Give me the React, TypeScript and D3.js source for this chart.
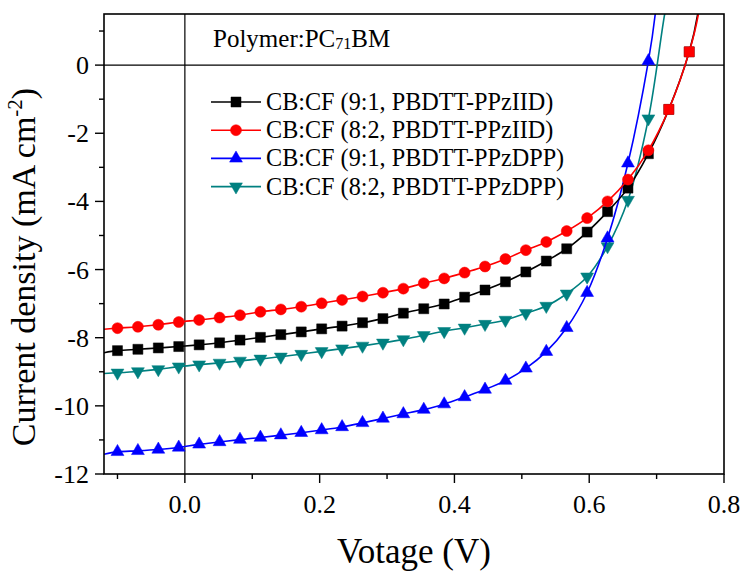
import React from "react";
import * as d3 from "d3";

// ---------- data ----------
const voltage = [
  -0.1, -0.0697, -0.0394, -0.0091, 0.0212, 0.0515, 0.0818, 0.1121, 0.1424, 0.1727,
  0.203, 0.2333, 0.2636, 0.2939, 0.3242, 0.3545, 0.3848, 0.4151, 0.4454, 0.4757,
  0.506, 0.5363, 0.5666, 0.5969, 0.6272, 0.6575, 0.6878, 0.7181, 0.7484,
];
const jBlack = [
  -8.38, -8.34, -8.3, -8.26, -8.21, -8.15, -8.07, -7.99, -7.91, -7.83,
  -7.74, -7.66, -7.56, -7.44, -7.28, -7.15, -7.01, -6.81, -6.6, -6.36,
  -6.07, -5.75, -5.39, -4.9, -4.3, -3.61, -2.6, -1.3, 0.39,
];
const jRed = [
  -7.72, -7.68, -7.62, -7.54, -7.48, -7.41, -7.34, -7.24, -7.17, -7.09,
  -6.99, -6.89, -6.79, -6.68, -6.56, -6.4, -6.26, -6.09, -5.91, -5.69,
  -5.43, -5.19, -4.87, -4.49, -4.0, -3.36, -2.5, -1.3, 0.39,
];
const jBlue = [
  -11.35, -11.32, -11.28, -11.22, -11.13, -11.06, -10.99, -10.93, -10.86, -10.79,
  -10.71, -10.62, -10.5, -10.37, -10.24, -10.11, -9.95, -9.74, -9.52, -9.26,
  -8.9, -8.41, -7.71, -6.68, -5.08, -2.88, 0.12,
];
const jTeal = [
  -9.03, -8.99, -8.93, -8.85, -8.79, -8.74, -8.68, -8.62, -8.56, -8.48,
  -8.4, -8.32, -8.24, -8.15, -8.05, -7.93, -7.81, -7.71, -7.6, -7.48,
  -7.28, -7.07, -6.71, -6.21, -5.32, -3.96, -1.57,
];
// line read at the left frame edge (V = -0.12) and voltage where each line leaves the top (J = 1.5)
const startJ = [-8.44, -7.75, -11.42, -9.05];
const exitV = [0.761, 0.762, 0.698, 0.712];

const seriesNames = [
  "CB:CF (9:1, PBDTT-PPzIID)",
  "CB:CF (8:2, PBDTT-PPzIID)",
  "CB:CF (9:1, PBDTT-PPzDPP)",
  "CB:CF (8:2, PBDTT-PPzDPP)",
];
const seriesJ = [jBlack, jRed, jBlue, jTeal];
const seriesColors = ["#000000", "#ff0000", "#0000ff", "#008080"];
const seriesShapes = ["square", "circle", "up", "down"];

const xTickMajor = [0.0, 0.2, 0.4, 0.6, 0.8];
const xTickMinor = [-0.1, 0.1, 0.3, 0.5, 0.7];
const yTickMajor = [0, -2, -4, -6, -8, -10, -12];
const yTickMinor = [1, -1, -3, -5, -7, -9, -11];

// ---------- layout ----------
const W = 745;
const H = 572;
const left = 104;
const right = 724;
const top = 14;
const bottom = 474;
const FONT = "Liberation Serif";
const tx = { fontFamily: FONT, fill: "#000" };

const x = d3.scaleLinear().domain([-0.12, 0.8]).range([left, right]);
const y = d3.scaleLinear().domain([-12, 1.5]).range([bottom, top]);

function symbolPath(shape: string): string {
  const s = d3.symbol();
  if (shape === "square") return s.type(d3.symbolSquare).size(100)() as string;
  if (shape === "circle") return s.type(d3.symbolCircle).size(95)() as string;
  return s.type(d3.symbolTriangle).size(72)() as string;
}

function Marker({ cx, cy, shape, color }: { cx: number; cy: number; shape: string; color: string }) {
  const rot = shape === "down" ? " rotate(180)" : "";
  return (
    <path
      d={symbolPath(shape)}
      transform={`translate(${cx},${cy})${rot}`}
      fill={color}
      stroke={color}
      strokeWidth={0.5}
    />
  );
}

export default function App() {
  const lineGen = d3
    .line<[number, number]>()
    .x((d) => x(d[0]))
    .y((d) => y(d[1]))
    .curve(d3.curveCatmullRom.alpha(0.5));

  const drawOrder = [3, 2, 0, 1];

  return (
    <svg
      width={W}
      height={H}
      style={{ position: "absolute", left: 0, top: 0, background: "#fff", fontFamily: FONT }}
    >
      <defs>
        <clipPath id="plotClip">
          <rect x={left} y={top} width={right - left} height={bottom - top} />
        </clipPath>
      </defs>
      <rect x={0} y={0} width={W} height={H} fill="#fff" />

      {/* zero lines */}
      <line x1={x(0)} x2={x(0)} y1={top} y2={bottom} stroke="#000" strokeWidth={1.2} />
      <line x1={left} x2={right} y1={y(0)} y2={y(0)} stroke="#000" strokeWidth={1.2} />

      {/* series */}
      <g clipPath="url(#plotClip)">
        {drawOrder.map((si) => {
          const js = seriesJ[si];
          const pts: [number, number][] = [[-0.12, startJ[si]]];
          js.forEach((j, i) => pts.push([voltage[i], j]));
          pts.push([exitV[si], 1.5]);
          pts.push([exitV[si] + (exitV[si] - voltage[js.length - 1]) * 0.3, 2.2]);
          return (
            <g key={si}>
              <path d={lineGen(pts) as string} fill="none" stroke={seriesColors[si]} strokeWidth={1.6} />
              {js.map((j, i) => (
                <Marker
                  key={i}
                  cx={x(voltage[i])}
                  cy={y(j)}
                  shape={si === 1 && i >= 27 ? "square" : seriesShapes[si]}
                  color={seriesColors[si]}
                />
              ))}
            </g>
          );
        })}
      </g>

      {/* frame */}
      <rect x={left} y={top} width={right - left} height={bottom - top} fill="none" stroke="#000" strokeWidth={1.6} />

      {/* x ticks */}
      {xTickMajor.map((t) => (
        <g key={"xm" + t}>
          <line x1={x(t)} x2={x(t)} y1={bottom} y2={bottom + 9} stroke="#000" strokeWidth={1.4} />
          <text x={x(t)} y={bottom + 39} textAnchor="middle" fontSize={26} style={tx}>
            {t.toFixed(1)}
          </text>
        </g>
      ))}
      {xTickMinor.map((t) => (
        <line key={"xn" + t} x1={x(t)} x2={x(t)} y1={bottom} y2={bottom + 5} stroke="#000" strokeWidth={1.4} />
      ))}

      {/* y ticks */}
      {yTickMajor.map((t) => (
        <g key={"ym" + t}>
          <line x1={left - 9} x2={left} y1={y(t)} y2={y(t)} stroke="#000" strokeWidth={1.4} />
          <text x={left - 15} y={y(t) + 9} textAnchor="end" fontSize={26} style={tx}>
            {t === 0 ? "0" : "-" + Math.abs(t)}
          </text>
        </g>
      ))}
      {yTickMinor.map((t) => (
        <line key={"yn" + t} x1={left - 5} x2={left} y1={y(t)} y2={y(t)} stroke="#000" strokeWidth={1.4} />
      ))}

      {/* axis titles */}
      <text x={(left + right) / 2} y={563} textAnchor="middle" fontSize={35} style={tx}>
        Votage (V)
      </text>
      <text transform={`translate(35, 267) rotate(-90)`} textAnchor="middle" fontSize={34} style={tx}>
        Current density (mA cm
        <tspan dy={-13} fontSize={21}>
          -2
        </tspan>
        <tspan dy={13}>)</tspan>
      </text>

      {/* annotation */}
      <text x={213} y={47} fontSize={25} style={tx}>
        Polymer:PC
        <tspan fontSize={16} dy={2}>
          71
        </tspan>
        <tspan dy={-2}>BM</tspan>
      </text>

      {/* legend */}
      {seriesNames.map((name, i) => {
        const ly = 102 + i * 28.2;
        return (
          <g key={name}>
            <line x1={211} x2={261} y1={ly} y2={ly} stroke={seriesColors[i]} strokeWidth={1.6} />
            <Marker cx={236} cy={ly} shape={seriesShapes[i]} color={seriesColors[i]} />
            <text x={266} y={ly + 8} fontSize={24.2} style={tx}>
              {name}
            </text>
          </g>
        );
      })}
    </svg>
  );
}
